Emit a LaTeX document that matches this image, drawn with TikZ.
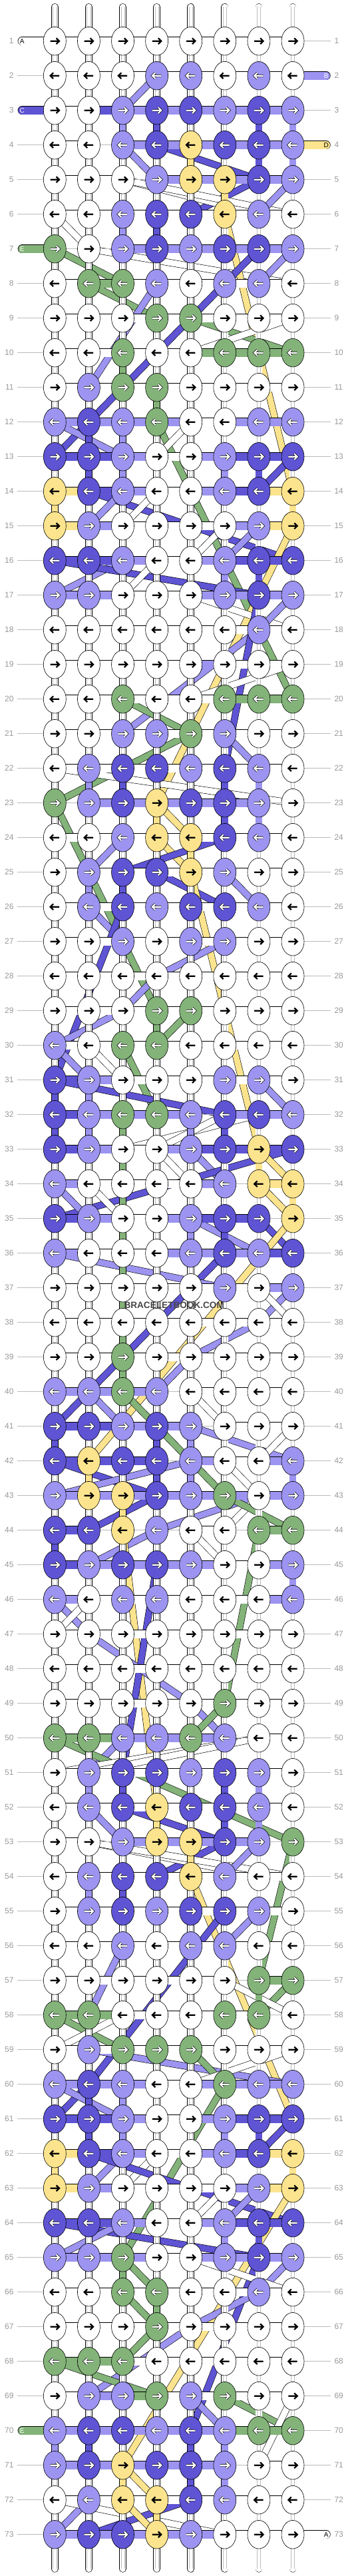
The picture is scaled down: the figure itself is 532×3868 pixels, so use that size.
\documentclass[tikz,border=0pt]{standalone}
\usepackage{fontspec}
\setmainfont{Liberation Sans}
\usetikzlibrary{shapes.geometric,backgrounds}

\definecolor{kW}{HTML}{FFFFFF}
\definecolor{kL}{HTML}{9C94F0}
\definecolor{kD}{HTML}{5E54D4}
\definecolor{kY}{HTML}{FCE48E}
\definecolor{kG}{HTML}{83B379}
\definecolor{rowgray}{HTML}{999999}
\definecolor{linegray}{HTML}{BBBBBB}

\pgfdeclarelayer{bands}
\pgfsetlayers{bands,background,main}

\tikzset{
  knot/.style={ellipse, draw=black, line width=0.6pt, minimum width=34pt, minimum height=42.6pt, inner sep=0pt},
  darrow/.style={black, line width=2.2pt},
  larrow/.style={white, line width=2.1pt, preaction={draw=black, line width=3.5pt}},
  arrowW/.style={darrow}, arrowY/.style={darrow},
  arrowL/.style={larrow}, arrowD/.style={larrow}, arrowG/.style={larrow},
  hbarout/.style={black, line width=13pt},
  hbarin/.style={line width=11.6pt},
  vbarout/.style={black, line width=10.7pt},
  vbarin/.style={line width=9.5pt},
  bandout/.style={black, line width=10.4pt},
  bandin/.style={line width=9.2pt},
  tubeline/.style={linegray, line width=0.5pt},
  rowline/.style={linegray, line width=0.6pt},
  rowlabel/.style={inner sep=0pt, text=rowgray, font=\fontsize{12}{14}\selectfont},
  stublabel/.style={inner sep=0pt, font=\fontsize{10}{12}\selectfont},
}
\def\codeW{W}

\begin{document}
\begin{tikzpicture}[x=1pt,y=-1pt]
\useasboundingbox (0,0) rectangle (532,3868);
\begin{pgfonlayer}{bands}
\fill[white] (0,0) rectangle (532,3868);
\end{pgfonlayer}

\foreach \r/\knots/\bars in {
1/{W,W,W,W,W,W,W,W}/{W,W,W,W,W,W,W},
2/{W,W,W,L,L,W,L,W}/{W,W,W,W,W,W,W},
3/{W,W,L,D,D,L,D,L}/{W,D,L,L,L,L,L},
4/{W,W,L,D,Y,D,D,L}/{W,-,L,L,L,L,L},
5/{W,W,W,L,Y,Y,D,L}/{W,W,-,L,L,L,L},
6/{W,W,L,D,D,Y,L,W}/{W,W,W,W,W,W,W},
7/{G,W,L,D,L,D,D,L}/{-,-,L,L,L,L,L},
8/{W,G,G,L,W,L,L,W}/{W,G,W,W,W,W,W},
9/{W,W,W,G,G,W,W,W}/{W,W,W,W,W,W,W},
10/{W,W,G,W,W,G,G,G}/{W,W,W,W,G,G,G},
11/{W,L,G,G,W,W,W,W}/{W,W,W,W,W,W,W},
12/{L,D,L,G,W,W,L,L}/{L,L,L,L,W,L,L},
13/{D,D,L,W,W,L,D,D}/{D,D,L,W,L,D,D},
14/{Y,D,L,W,W,L,D,Y}/{Y,D,L,W,L,D,Y},
15/{Y,L,W,W,W,W,L,Y}/{Y,L,W,W,W,L,Y},
16/{D,D,L,W,W,L,D,D}/{D,D,L,W,L,D,D},
17/{L,L,W,W,W,L,D,L}/{L,L,W,W,L,L,L},
18/{W,W,W,W,W,W,L,W}/{W,W,W,W,W,W,W},
19/{W,W,W,W,W,W,W,W}/{W,W,W,W,L,W,W},
20/{W,W,G,W,W,G,G,G}/{W,W,W,W,W,G,G},
21/{W,W,L,L,G,L,W,W}/{W,W,W,W,W,W,W},
22/{W,L,D,D,L,D,L,W}/{W,W,W,W,W,W,W},
23/{G,L,D,Y,D,D,L,W}/{-,L,L,L,L,L,-},
24/{W,W,L,Y,Y,D,L,W}/{W,W,W,W,W,W,W},
25/{W,L,D,D,Y,L,W,W}/{W,W,W,W,W,W,W},
26/{W,L,D,L,D,D,L,W}/{W,W,W,W,W,W,W},
27/{W,W,L,W,L,L,W,W}/{W,W,W,W,W,W,W},
28/{W,W,W,W,W,W,W,W}/{W,W,W,W,W,W,W},
29/{W,W,W,G,G,W,W,W}/{W,W,W,W,W,W,W},
30/{L,W,G,G,W,W,W,W}/{W,W,W,W,W,W,W},
31/{D,L,W,W,W,L,L,W}/{D,L,W,W,W,W,W},
32/{D,L,G,G,L,D,D,L}/{D,L,L,L,-,L,L},
33/{D,L,W,W,L,D,Y,D}/{D,L,W,L,D,D,D},
34/{L,W,W,W,W,L,Y,Y}/{L,W,W,W,L,-,Y},
35/{D,L,W,W,L,D,D,Y}/{D,L,W,L,D,D,-},
36/{L,W,W,W,L,D,L,D}/{L,W,W,L,L,L,D},
37/{W,W,W,W,W,L,W,L}/{W,W,W,W,W,W,L},
38/{W,W,W,W,W,W,W,W}/{W,W,W,W,W,W,W},
39/{W,W,G,W,W,W,W,W}/{W,W,W,W,W,W,W},
40/{L,L,G,L,W,W,W,W}/{L,L,L,-,W,W,W},
41/{D,D,L,D,L,W,W,W}/{D,D,L,L,-,W,W},
42/{D,Y,D,D,L,W,W,L}/{D,D,D,-,L,W,L},
43/{L,Y,Y,D,L,G,W,L}/{L,L,L,L,L,L,L},
44/{D,D,Y,L,W,W,G,G}/{D,-,-,-,W,-,G},
45/{D,L,D,D,L,W,W,L}/{D,L,L,L,L,W,L},
46/{L,W,L,L,W,W,W,L}/{L,W,W,W,W,W,L},
47/{W,W,W,W,W,W,W,W}/{W,W,W,W,W,W,W},
48/{W,W,W,W,W,W,W,W}/{W,W,W,W,W,W,W},
49/{W,W,W,W,W,G,W,W}/{W,W,W,W,W,W,W},
50/{G,G,L,L,G,L,W,W}/{G,G,L,L,L,-,W},
51/{W,L,D,D,L,D,L,W}/{W,W,W,W,W,W,W},
52/{W,L,D,Y,D,D,L,W}/{W,W,W,W,W,W,W},
53/{W,W,L,Y,Y,D,L,G}/{W,-,L,L,L,L,-},
54/{W,L,D,D,Y,L,W,W}/{W,W,W,W,W,W,W},
55/{W,L,D,L,D,D,L,W}/{W,W,W,W,W,W,W},
56/{W,W,L,W,L,L,W,W}/{W,W,W,W,W,W,W},
57/{W,W,W,W,W,W,G,G}/{W,W,W,W,W,-,G},
58/{G,G,W,W,W,G,G,W}/{G,G,W,W,W,W,-},
59/{W,L,G,G,G,W,W,W}/{W,W,W,W,W,W,W},
60/{L,D,L,W,W,G,L,L}/{L,L,L,W,L,L,L},
61/{D,D,L,W,W,L,D,D}/{D,D,L,W,L,D,D},
62/{Y,D,L,W,W,L,D,Y}/{Y,D,L,W,L,D,Y},
63/{Y,L,W,W,W,W,L,Y}/{Y,L,W,W,W,L,Y},
64/{D,D,L,W,W,L,D,D}/{D,D,L,W,L,D,D},
65/{L,L,G,W,W,L,D,L}/{L,L,L,W,L,L,L},
66/{W,W,G,G,W,W,L,W}/{W,W,W,W,W,W,W},
67/{W,W,W,G,W,W,W,W}/{W,W,W,W,W,W,W},
68/{G,G,G,W,W,W,W,W}/{G,G,W,W,W,W,W},
69/{W,L,L,G,L,G,W,W}/{W,L,G,W,W,W,W},
70/{L,D,D,L,D,L,G,G}/{L,L,L,L,L,G,G},
71/{L,D,Y,D,D,L,W,W}/{L,L,L,L,L,-,W},
72/{W,L,Y,Y,D,L,W,W}/{W,W,W,W,W,W,W},
73/{L,D,D,Y,L,W,W,W}/{L,L,L,L,L,W,W}}{
  \pgfmathsetmacro\yy{61.7+52*(\r-1)}
  \pgfmathtruncatemacro\dir{1-2*mod(\r+1,2)}
  \foreach \col [count=\j] in \knots {
    \pgfmathsetmacro\xx{82.33+51.1*(\j-1)}
    \node[knot, fill=k\col] (\r-\j) at (\xx,\yy) {};
    \draw[arrow\col, shift={(\r-\j.center)}, xscale=\dir] (-6.7,0) -- (6.2,0) (2.2,-4.4) -- (6.7,0) -- (2.2,4.4);
    \expandafter\xdef\csname kc@\r @\j\endcsname{\col}
  }
  \node[rowlabel, anchor=east] (ll-\r) at (20.7,\yy) {\r};
  \node[rowlabel, anchor=west] (rl-\r) at (502.3,\yy) {\r};
  \begin{pgfonlayer}{background}
    \draw[rowline] ([xshift=5.3pt]ll-\r.east) -- ([xshift=-5.3pt]rl-\r.west);
    \foreach \bc [count=\j] in \bars {
      \if\bc-\else
        \pgfmathtruncatemacro\jn{\j+1}
        \draw[hbarout] (\r-\j.center) -- (\r-\jn.center);
        \draw[hbarin, k\bc] (\r-\j.center) -- (\r-\jn.center);
      \fi
    }
  \end{pgfonlayer}
}

\foreach \r in {32,...,39}{\expandafter\xdef\csname vb@\r @3\endcsname{G}}

\begin{pgfonlayer}{background}
\foreach \r in {1,...,72}{
  \pgfmathtruncatemacro\rn{\r+1}
  \foreach \j in {1,...,8}{
    \edef\ca{\csname kc@\r @\j\endcsname}
    \edef\cb{\csname kc@\rn @\j\endcsname}
    \ifcsname vb@\r @\j\endcsname
      \edef\ca{\csname vb@\r @\j\endcsname}\let\cb\ca
    \fi
    \ifx\ca\cb\else\let\ca\codeW\fi
    \ifx\ca\codeW
      \draw[vbarout] (\r-\j.center) -- (\rn-\j.center);
      \draw[vbarin, white] (\r-\j.center) -- (\rn-\j.center);
      \draw[tubeline] ([xshift=-2.7pt]\r-\j.center) -- ([xshift=-2.7pt]\rn-\j.center);
      \draw[tubeline] ([xshift=2.7pt]\r-\j.center) -- ([xshift=2.7pt]\rn-\j.center);
    \else
      \draw[vbarout] (\r-\j.center) -- (\rn-\j.center);
      \draw[vbarin, k\ca] (\r-\j.center) -- (\rn-\j.center);
    \fi
  }
}

\foreach \j in {1,...,8}{
  \pgfmathsetmacro\xx{82.33+51.1*(\j-1)}
  \coordinate (top-\j) at (\xx,10.4);
  \coordinate (bot-\j) at (\xx,3857.3);
  \draw[vbarout, line cap=round] (top-\j) -- (1-\j.center);
  \draw[vbarin, white, line cap=round] (top-\j) -- (1-\j.center);
  \draw[tubeline] ([xshift=-2.7pt]top-\j) -- ([xshift=-2.7pt]1-\j.center);
  \draw[tubeline] ([xshift=2.7pt]top-\j) -- ([xshift=2.7pt]1-\j.center);
  \draw[vbarout, line cap=round] (73-\j.center) -- (bot-\j);
  \draw[vbarin, white, line cap=round] (73-\j.center) -- (bot-\j);
  \draw[tubeline] ([xshift=-2.7pt]73-\j.center) -- ([xshift=-2.7pt]bot-\j);
  \draw[tubeline] ([xshift=2.7pt]73-\j.center) -- ([xshift=2.7pt]bot-\j);
}

\coordinate (sA) at (33.2,61.7);
\coordinate (sB) at (490.2,113.7);
\coordinate (sC) at (33.2,165.7);
\coordinate (sD) at (490.2,217.7);
\coordinate (sE) at (33.2,373.7);
\coordinate (sE2) at (33.2,3649.7);
\coordinate (sA2) at (490.2,3805.7);
\foreach \s/\n/\col in {sA/1-1/W, sB/2-8/L, sC/3-1/D, sD/4-8/Y, sE/7-1/G, sE2/70-1/G, sA2/73-8/W}{
  \draw[hbarout, line cap=round] (\s) -- (\n.center);
  \draw[hbarin, k\col, line cap=round] (\s) -- (\n.center);
}
\end{pgfonlayer}

\begin{pgfonlayer}{bands}
\foreach \col/\a/\b in {
L/2-4/3-3, L/4-3/5-4, D/4-4/5-7, D/5-7/6-5, W/5-3/6-7, W/5-3/6-8, L/5-8/6-7,
W/6-1/7-2, W/7-2/8-8, G/7-1/8-3, G/8-2/9-4, Y/6-6/14-8, L/7-8/8-7,
D/7-7/12-2, D/12-2/13-1, L/8-4/11-2, G/9-5/10-8, W/10-5/9-8,
G/12-4/20-8, W/12-5/13-4, L/12-1/13-3, D/13-8/14-7, D/14-2/16-8, L/14-3/15-2,
W/14-4/15-3, W/15-6/16-5, L/15-7/16-6, Y/15-8/23-4, L/16-3/17-1, D/16-1/17-7,
W/16-4/17-3, W/17-5/18-8, L/17-8/18-7, L/18-7/21-3, D/17-7/22-6, W/19-8/20-5,
G/20-3/21-5, G/21-5/23-1, L/21-6/22-7, W/22-1/23-8, Y/23-4/24-5, G/23-1/25-2,
L/24-3/25-2, Y/24-4/25-5, D/24-6/25-3, D/25-4/26-6, L/25-6/26-7, G/25-2/29-4,
Y/25-5/33-7, L/26-2/27-3, D/26-3/31-1, L/27-6/28-4, L/28-4/29-3, L/29-3/30-1,
G/29-5/30-4, G/30-3/32-4, W/30-2/31-3, L/30-1/31-2, D/31-1/32-6, L/31-7/32-8,
W/33-3/32-7, W/33-4/32-6, L/33-5/34-6, D/33-8/35-1, W/33-4/34-5, Y/33-7/34-8,
Y/34-7/35-8, L/34-1/35-2, W/34-2/35-3, L/35-5/36-7, D/35-7/36-8, Y/35-8/42-2,
D/36-6/40-2, L/36-1/37-6, L/37-8/38-7, W/37-7/38-8, L/38-7/39-5, L/39-5/40-4,
D/40-2/41-1, L/40-2/41-3, G/40-3/43-6, W/40-5/41-6, L/41-5/42-8, W/41-8/42-7,
W/42-6/43-7, D/42-1/43-4, L/42-5/43-1, D/43-4/44-2, L/43-7/44-4, W/43-7/44-6,
G/43-6/44-8, L/44-4/45-2, W/44-5/45-6, G/44-7/49-6, Y/44-3/52-4, D/45-4/51-3,
L/46-1/47-2, W/46-2/47-1, L/47-2/49-5,
L/49-5/50-6, G/49-6/50-5, L/50-3/51-2, G/50-1/53-8, W/51-1/50-7, W/51-2/50-7,
L/52-2/53-3, D/52-3/53-6, D/53-6/54-4, W/53-2/54-7, W/53-2/54-8, L/53-7/54-6,
G/53-8/57-7, Y/54-5/61-8, D/55-6/60-2, L/55-7/56-6, L/56-3/58-2, G/57-8/58-7,
W/57-6/58-8, G/58-1/59-3, W/58-3/59-1, L/59-2/60-8, G/59-5/60-6, W/60-5/59-8,
D/60-2/61-1, L/60-1/61-3, G/60-6/65-3, D/61-8/62-7,
L/62-3/63-2, W/62-4/63-3, D/62-2/64-8, W/63-6/64-5, L/63-7/64-6, Y/63-8/71-3,
D/64-1/65-7, L/64-3/65-1, D/65-7/70-5, L/65-8/66-7, W/65-5/66-8, G/65-3/66-4,
G/66-3/67-4, G/67-4/68-3, L/66-7/67-5, L/67-5/69-2, G/68-1/69-4, G/69-6/70-8,
W/69-8/71-7, L/69-5/70-6, Y/71-3/72-4, L/72-2/73-1, W/72-1/73-6, D/72-5/73-2,
Y/72-3/73-4}{
  \draw[bandout] (\a.center) -- (\b.center);
  \draw[bandin, k\col] (\a.center) -- (\b.center);
}
\end{pgfonlayer}

\node[stublabel] (lA) at (sA) {A};
\node[stublabel, text=white] (lB) at (sB) {B};
\node[stublabel, text=white] (lC) at (sC) {C};
\node[stublabel] (lD) at (sD) {D};
\node[stublabel, text=white] (lE) at (sE) {E};
\node[stublabel, text=white] (lE2) at (sE2) {E};
\node[stublabel] (lA2) at (sA2) {A};

\node[font=\fontsize{13.6}{14}\selectfont\bfseries, text=black!72] (mark) at (261.7,1959.3) {BRACELETBOOK.COM};
\end{tikzpicture}
\end{document}
